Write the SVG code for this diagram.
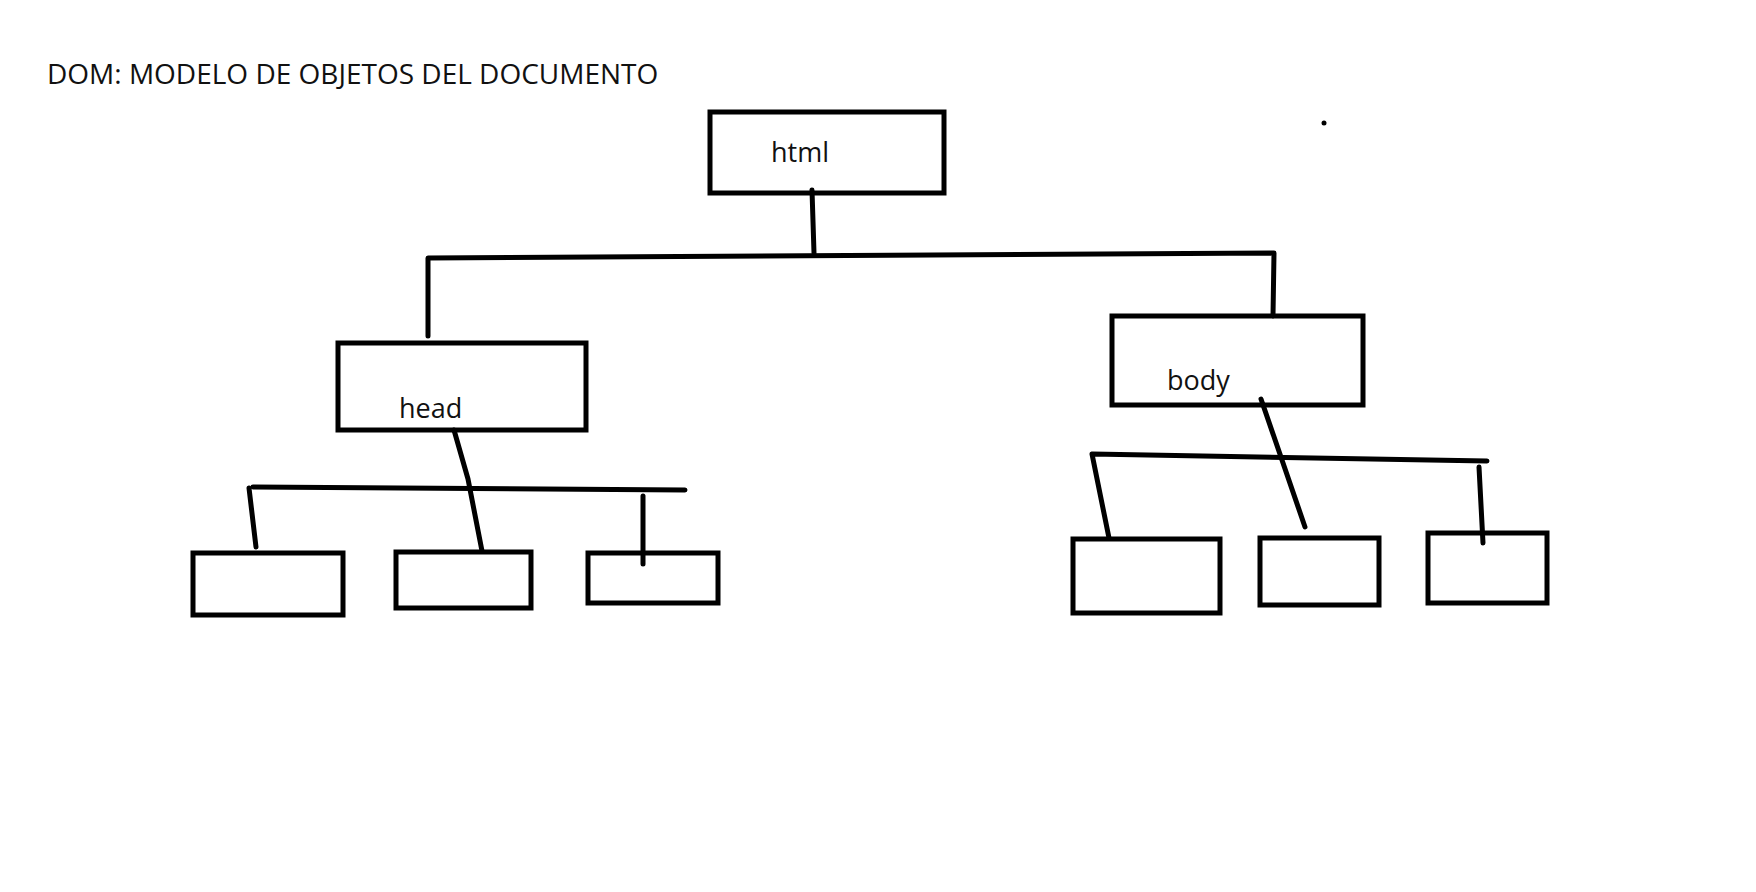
<svg xmlns="http://www.w3.org/2000/svg" width="1756" height="892" viewBox="0 0 1756 892">
<style>
.box{fill:none;stroke:#000;stroke-width:5}
.ln{fill:none;stroke:#000;stroke-width:5;stroke-linecap:round;stroke-linejoin:round}
.t{font-family:"Open Sans","Noto Sans",sans-serif;fill:#111}
.lbl{font-size:27px}
</style>
<rect width="1756" height="892" fill="#fff"/>
<text class="t" x="47" y="84" font-size="28">DOM: MODELO DE OBJETOS DEL DOCUMENTO</text>
<g id="html"><rect class="box" x="710" y="112" width="234" height="81"/><text class="t lbl" x="771" y="162">html</text></g>
<g id="head"><rect class="box" x="338" y="343" width="248" height="87"/><text class="t lbl" x="399" y="418">head</text></g>
<g id="body"><rect class="box" x="1112" y="316" width="251" height="89"/><text class="t lbl" x="1167" y="390">body</text></g>
<g id="h1"><rect class="box" x="193" y="553" width="150" height="62"/></g>
<g id="h2"><rect class="box" x="396" y="552" width="135" height="56"/></g>
<g id="h3"><rect class="box" x="588" y="553" width="130" height="50"/></g>
<g id="b1"><rect class="box" x="1073" y="539" width="147" height="74"/></g>
<g id="b2"><rect class="box" x="1260" y="538" width="119" height="67"/></g>
<g id="b3"><rect class="box" x="1428" y="533" width="119" height="70"/></g>
<g id="connectors">
<path class="ln" d="M812 190 L814 253"/>
<path class="ln" d="M428 336 L428 258 L1274 253 L1273 316"/>
<path class="ln" d="M454 430 L468 479 L482 551"/>
<path class="ln" d="M253 487 L685 490"/>
<path class="ln" d="M249 488 L256 547"/>
<path class="ln" d="M643 496 L643 564"/>
<path class="ln" d="M1261 399 L1305 527"/>
<path class="ln" d="M1109 538 L1092 454 L1487 461"/>
<path class="ln" d="M1479 467 L1483 543"/>
</g>
<circle cx="1324" cy="123" r="2.5" fill="#000"/>
</svg>
